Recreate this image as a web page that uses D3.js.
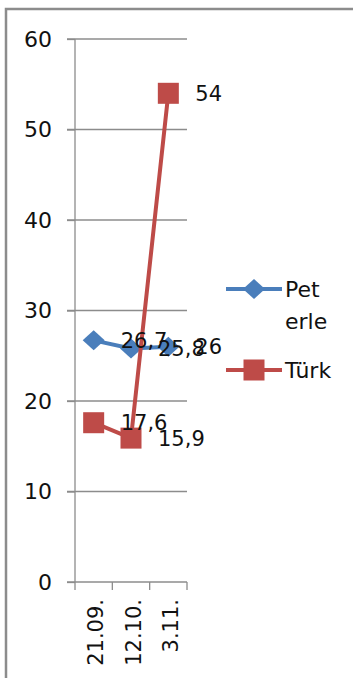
<!DOCTYPE html>
<html>
<head>
<meta charset="utf-8">
<script src="https://cdn.jsdelivr.net/npm/d3@7"></script>
<style>
  body { margin: 0; background: #fff; }
  text { font-family: "DejaVu Sans", sans-serif; fill: #111; }
</style>
</head>
<body>
<div id="chart"></div>
<script>
var categories = ["21.09.", "12.10.", "3.11."];
var seriesNames = ["Pet erle", "Türk"];
var petErle = [26.7, 25.8, 26];
var turk = [17.6, 15.9, 54];
var yTicks = [0, 10, 20, 30, 40, 50, 60];

var width = 353, height = 678;
var svg = d3.select("#chart").append("svg")
            .attr("width", width)
            .attr("height", height);

// outer frame
svg.append("rect")
   .attr("x", 6).attr("y", 9)
   .attr("width", 400).attr("height", 700)
   .attr("fill", "none")
   .attr("stroke", "#8c8c8c")
   .attr("stroke-width", 2.5);

var x = d3.scaleBand().domain(categories).range([75, 187]);
var y = d3.scaleLinear().domain([0, 60]).range([582, 39]);

// gridlines
svg.append("g").selectAll("line")
   .data(yTicks.slice(1))
   .enter().append("line")
   .attr("x1", 67).attr("x2", 187)
   .attr("y1", function (d) { return y(d); })
   .attr("y2", function (d) { return y(d); })
   .attr("stroke", "#8c8c8c")
   .attr("stroke-width", 1.3);

// y axis
var yAxis = svg.append("g")
   .attr("transform", "translate(75,0)")
   .call(d3.axisLeft(y).tickValues(yTicks).tickSize(8).tickPadding(15));
yAxis.selectAll("line, path").attr("stroke", "#8c8c8c").attr("stroke-width", 1.3);
yAxis.select(".domain").attr("d", "M0," + y(60) + "V" + y(0));
yAxis.selectAll("text").attr("font-size", 22).attr("font-family", "DejaVu Sans").attr("fill", "#111");

// x axis
var xAxis = svg.append("g")
   .attr("transform", "translate(0," + y(0) + ")");
xAxis.append("line")
   .attr("x1", 67).attr("x2", 187)
   .attr("stroke", "#8c8c8c").attr("stroke-width", 1.3);
var edges = categories.map(function (c) { return x(c); }).concat([x.range()[1]]);
xAxis.selectAll(".tk").data(edges).enter().append("line")
   .attr("class", "tk")
   .attr("x1", function (d) { return d; }).attr("x2", function (d) { return d; })
   .attr("y1", 0).attr("y2", 8)
   .attr("stroke", "#8c8c8c").attr("stroke-width", 1.3);
xAxis.selectAll("text").data(categories).enter().append("text")
   .attr("transform", function (d) {
     return "translate(" + (x(d) + x.bandwidth() / 2 + 2) + ",17) rotate(-90)";
   })
   .attr("text-anchor", "end")
   .attr("dy", "0.36em")
   .attr("font-size", 21)
   .text(function (d) { return d; });

var series = [
  { name: seriesNames[0], values: petErle, color: "#4a7ebb", shape: "diamond" },
  { name: seriesNames[1], values: turk, color: "#be4b48", shape: "square" }
];

var line = d3.line()
   .x(function (d, i) { return x(categories[i]) + x.bandwidth() / 2; })
   .y(function (d) { return y(d); });

function marker(sel, shape, color) {
  if (shape === "diamond") {
    sel.append("path").attr("d", "M-11,0L0,-10L11,0L0,10Z").attr("fill", color);
  } else {
    sel.append("rect").attr("x", -10.5).attr("y", -10.5)
       .attr("width", 21).attr("height", 21).attr("fill", color);
  }
}

series.forEach(function (s) {
  var g = svg.append("g");
  g.append("path")
   .datum(s.values)
   .attr("d", line)
   .attr("fill", "none")
   .attr("stroke", s.color)
   .attr("stroke-width", 4);
  g.selectAll(".m").data(s.values).enter().append("g")
   .attr("class", "m")
   .attr("transform", function (d, i) {
     return "translate(" + (x(categories[i]) + x.bandwidth() / 2) + "," + y(d) + ")";
   })
   .each(function () { marker(d3.select(this), s.shape, s.color); });
});

// data labels
series.forEach(function (s) {
  svg.append("g").selectAll("text").data(s.values).enter().append("text")
   .attr("x", function (d, i) { return x(categories[i]) + x.bandwidth() / 2 + 27; })
   .attr("y", function (d) { return y(d); })
   .attr("dy", "0.36em")
   .attr("font-size", 21)
   .text(function (d) { return String(d).replace(".", ","); });
});

// legend
var legendY = [289, 370];
series.forEach(function (s, i) {
  var g = svg.append("g").attr("transform", "translate(0," + legendY[i] + ")");
  g.append("line").attr("x1", 226).attr("x2", 282)
   .attr("stroke", s.color).attr("stroke-width", 4);
  var m = g.append("g").attr("transform", "translate(254,0)");
  marker(m, s.shape, s.color);
  var t = g.append("text").attr("x", 285).attr("y", 0).attr("font-size", 22);
  s.name.split(" ").forEach(function (w, j) {
    t.append("tspan").attr("x", 285).attr("dy", j === 0 ? "0.36em" : 32).text(w);
  });
});
</script>
</body>
</html>
